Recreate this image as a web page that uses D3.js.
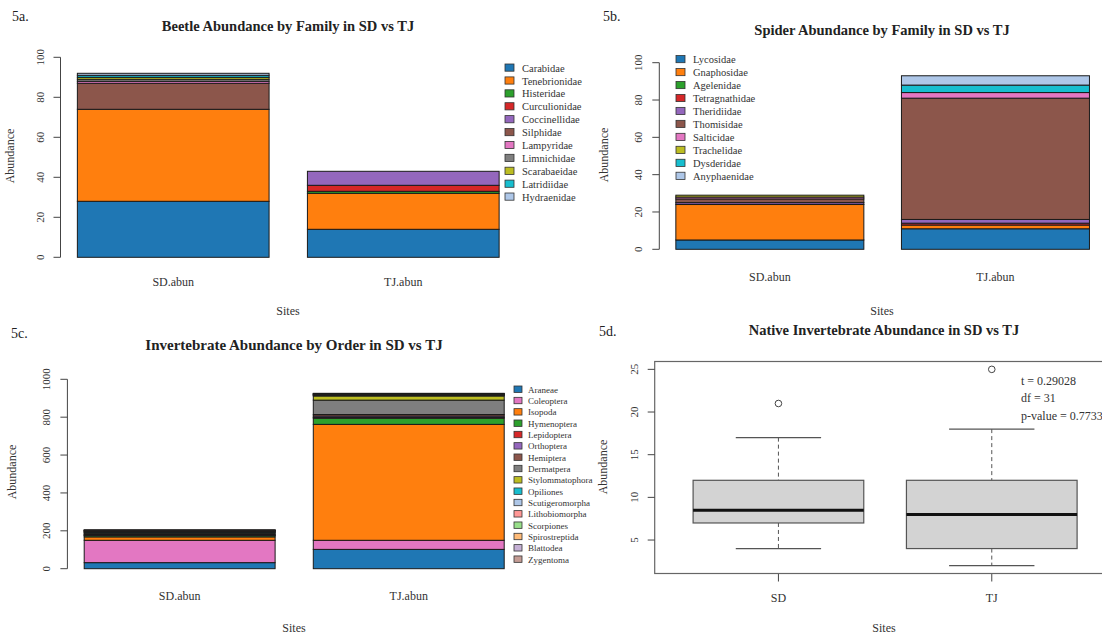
<!DOCTYPE html>
<html>
<head>
<meta charset="utf-8">
<script src="https://cdn.jsdelivr.net/npm/d3@7"></script>
<style>
  body { margin: 0; background: #fff; }
  svg text { font-family: "Liberation Serif", "DejaVu Serif", serif; fill: #222; }
</style>
</head>
<body>
<svg id="fig" width="1102" height="636"></svg>
<script>
// ---- data ----
const sites = ["SD.abun", "TJ.abun"];

const beetleFamilies = ["Carabidae", "Tenebrionidae", "Histeridae", "Curculionidae", "Coccinellidae",
  "Silphidae", "Lampyridae", "Limnichidae", "Scarabaeidae", "Latridiidae", "Hydraenidae"];
const beetleSD = [28, 46, 0, 0, 0, 13, 1, 1, 1, 1, 1];
const beetleTJ = [14, 18, 1, 3, 7, 0, 0, 0, 0, 0, 0];
const beetleColors = ["#1f77b4", "#ff7f0e", "#2ca02c", "#d62728", "#9467bd", "#8c564b",
  "#e377c2", "#7f7f7f", "#bcbd22", "#17becf", "#aec7e8"];

const spiderFamilies = ["Lycosidae", "Gnaphosidae", "Agelenidae", "Tetragnathidae", "Theridiidae",
  "Thomisidae", "Salticidae", "Trachelidae", "Dysderidae", "Anyphaenidae"];
const spiderSD = [5, 19, 0, 0, 1, 2, 1, 1, 0, 0];
const spiderTJ = [11, 2, 0, 1, 2, 65, 3, 0, 4, 5];
const spiderColors = ["#1f77b4", "#ff7f0e", "#2ca02c", "#d62728", "#9467bd", "#8c564b",
  "#e377c2", "#bcbd22", "#17becf", "#aec7e8"];

const invertOrders = ["Araneae", "Coleoptera", "Isopoda", "Hymenoptera", "Lepidoptera", "Orthoptera",
  "Hemiptera", "Dermatpera", "Stylommatophora", "Opiliones", "Scutigeromorpha", "Lithobiomorpha",
  "Scorpiones", "Spirostreptida", "Blattodea", "Zygentoma"];
const invertSD = [32, 118, 18, 7, 2, 3, 4, 6, 3, 2, 2, 3, 1, 2, 1, 1];
const invertTJ = [102, 48, 612, 33, 3, 8, 8, 76, 22, 3, 2, 3, 1, 2, 1, 2];
const invertColors = ["#1f77b4", "#e377c2", "#ff7f0e", "#2ca02c", "#d62728", "#9467bd",
  "#8c564b", "#7f7f7f", "#bcbd22", "#17becf", "#aec7e8", "#ff9896", "#98df8a", "#ffbb78",
  "#c5b0d5", "#c49c94"];

// native invertebrate abundance, boxplot summaries
const nativeSites = ["SD", "TJ"];
const nativeLow = [4, 2];
const nativeQ1 = [7, 4];
const nativeMedian = [8.5, 8];
const nativeQ3 = [12, 12];
const nativeHigh = [17, 18];
const nativeOutliers = [[21], [25]];
const nativeTicks = [5, 10, 15, 20, 25];
const tTestLines = ["t = 0.29028", "df = 31", "p-value = 0.7733"];

const svg = d3.select("#fig");

// rotated left axis in the style of base R graphics
function leftAxis(g, y, ticks, x0, drawLine, fontSize) {
  const ax = g.append("g").attr("transform", `translate(${x0},0)`);
  if (drawLine) {
    ax.append("line")
      .attr("x1", 0).attr("x2", 0)
      .attr("y1", y(ticks[0])).attr("y2", y(ticks[ticks.length - 1]))
      .attr("stroke", "#444").attr("stroke-width", 1);
  }
  ticks.forEach(t => {
    ax.append("line")
      .attr("x1", 0).attr("x2", -7)
      .attr("y1", y(t)).attr("y2", y(t))
      .attr("stroke", "#444").attr("stroke-width", 1);
    ax.append("text")
      .attr("transform", `translate(-17,${y(t)}) rotate(-90)`)
      .attr("text-anchor", "middle")
      .attr("font-size", fontSize)
      .style("fill", "#333")
      .text(t);
  });
}

function rotatedLabel(x, y, text, size) {
  svg.append("text")
    .attr("transform", `translate(${x},${y}) rotate(-90)`)
    .attr("text-anchor", "middle")
    .attr("font-size", size)
    .style("fill", "#333")
    .text(text);
}

function plainText(x, y, text, size, opts = {}) {
  svg.append("text")
    .attr("x", x).attr("y", y)
    .attr("text-anchor", opts.anchor || "middle")
    .attr("font-size", size)
    .attr("font-weight", opts.bold ? "bold" : "normal")
    .style("fill", opts.fill || "#222")
    .text(text);
}

function stackedPanel(cfg) {
  const g = svg.append("g");
  const x = d3.scaleBand()
    .domain(sites)
    .range([cfg.left, cfg.right])
    .paddingInner(0.2 / 1.2)
    .paddingOuter(0.088 / 1.2);
  const y = d3.scaleLinear().domain([0, cfg.yMax]).range([cfg.yBottom, cfg.yTop]);

  const rows = sites.map((s, i) => {
    const r = { site: s };
    cfg.categories.forEach((c, k) => { r[c] = (i === 0 ? cfg.sd : cfg.tj)[k]; });
    return r;
  });
  const series = d3.stack().keys(cfg.categories)(rows);
  const color = d3.scaleOrdinal().domain(cfg.categories).range(cfg.colors);

  series.forEach(s => {
    g.selectAll(null)
      .data(s.filter(d => d[1] - d[0] > 0))
      .join("rect")
      .attr("x", d => x(d.data.site))
      .attr("width", x.bandwidth())
      .attr("y", d => y(d[1]))
      .attr("height", d => y(d[0]) - y(d[1]))
      .attr("fill", color(s.key))
      .attr("stroke", "#1a1a1a")
      .attr("stroke-width", 1);
  });

  leftAxis(g, y, cfg.ticks, cfg.left, true, 11);

  sites.forEach(s => plainText(x(s) + x.bandwidth() / 2, cfg.catY, s, 12, { fill: "#333" }));

  // legend
  cfg.categories.forEach((c, k) => {
    const ly = cfg.legY0 + k * cfg.legStep;
    g.append("rect")
      .attr("x", cfg.legX).attr("y", ly - cfg.sw / 2)
      .attr("width", cfg.sw).attr("height", cfg.sw * 0.8)
      .attr("fill", color(c)).attr("stroke", "#333").attr("stroke-width", 0.8);
    g.append("text")
      .attr("x", cfg.legX + cfg.legTextDx).attr("y", ly + cfg.legFont * 0.3)
      .attr("font-size", cfg.legFont)
      .style("fill", "#333")
      .text(c);
  });
}

// ---- 5a: beetles ----
stackedPanel({
  categories: beetleFamilies, sd: beetleSD, tj: beetleTJ, colors: beetleColors,
  left: 60.5, right: 516, yTop: 57.3, yBottom: 257.3, yMax: 100,
  ticks: [0, 20, 40, 60, 80, 100], catY: 286,
  legX: 505, legTextDx: 17, legY0: 68.5, legStep: 12.9, legFont: 10.5, sw: 9
});
plainText(12, 21, "5a.", 14, { anchor: "start" });
plainText(288, 31, "Beetle Abundance by Family in SD vs TJ", 14.5, { bold: true });
rotatedLabel(14, 156, "Abundance", 12);
plainText(288, 315, "Sites", 12, { fill: "#333" });

// ---- 5b: spiders ----
stackedPanel({
  categories: spiderFamilies, sd: spiderSD, tj: spiderTJ, colors: spiderColors,
  left: 659.3, right: 1106, yTop: 62.7, yBottom: 249.3, yMax: 100,
  ticks: [0, 20, 40, 60, 80, 100], catY: 281,
  legX: 676, legTextDx: 17, legY0: 60, legStep: 12.97, legFont: 10.5, sw: 9
});
plainText(603, 21, "5b.", 14, { anchor: "start" });
plainText(882, 35, "Spider Abundance by Family in SD vs TJ", 14.5, { bold: true });
rotatedLabel(608, 155, "Abundance", 12);
plainText(882, 315, "Sites", 12, { fill: "#333" });

// ---- 5c: invertebrate orders ----
stackedPanel({
  categories: invertOrders, sd: invertSD, tj: invertTJ, colors: invertColors,
  left: 67.4, right: 521, yTop: 379.3, yBottom: 568.7, yMax: 1000,
  ticks: [0, 200, 400, 600, 800, 1000], catY: 600,
  legX: 514, legTextDx: 14, legY0: 390, legStep: 11.33, legFont: 9, sw: 8
});
plainText(11, 338, "5c.", 14, { anchor: "start" });
plainText(294, 350, "Invertebrate Abundance by Order in SD vs TJ", 15, { bold: true });
rotatedLabel(16, 472, "Abundance", 12);
plainText(294, 632, "Sites", 12, { fill: "#333" });

// ---- 5d: native invertebrate boxplot ----
(function () {
  const g = svg.append("g");
  const x = d3.scaleLinear().domain([0.42, 2.58]).range([654.7, 1115.5]);
  const y = d3.scaleLinear().domain([1.08, 25.92]).range([573.5, 361.5]);
  const half = 0.4, capHalf = 0.2;

  nativeSites.forEach((s, i) => {
    const cx = x(i + 1);
    // whiskers
    [[nativeHigh[i], nativeQ3[i]], [nativeQ1[i], nativeLow[i]]].forEach(([a, b]) => {
      g.append("line")
        .attr("x1", cx).attr("x2", cx).attr("y1", y(a)).attr("y2", y(b))
        .attr("stroke", "#555").attr("stroke-width", 1).attr("stroke-dasharray", "4,3");
    });
    [nativeHigh[i], nativeLow[i]].forEach(v => {
      g.append("line")
        .attr("x1", x(i + 1 - capHalf)).attr("x2", x(i + 1 + capHalf))
        .attr("y1", y(v)).attr("y2", y(v))
        .attr("stroke", "#555").attr("stroke-width", 1.2);
    });
    // box
    g.append("rect")
      .attr("x", x(i + 1 - half)).attr("width", x(i + 1 + half) - x(i + 1 - half))
      .attr("y", y(nativeQ3[i])).attr("height", y(nativeQ1[i]) - y(nativeQ3[i]))
      .attr("fill", "#d3d3d3").attr("stroke", "#555").attr("stroke-width", 1.2);
    // median
    g.append("line")
      .attr("x1", x(i + 1 - half)).attr("x2", x(i + 1 + half))
      .attr("y1", y(nativeMedian[i])).attr("y2", y(nativeMedian[i]))
      .attr("stroke", "#111").attr("stroke-width", 3);
    // outliers
    nativeOutliers[i].forEach(v => {
      g.append("circle")
        .attr("cx", cx).attr("cy", y(v)).attr("r", 3.3)
        .attr("fill", "none").attr("stroke", "#444").attr("stroke-width", 1);
    });
    // x tick and label
    g.append("line")
      .attr("x1", cx).attr("x2", cx).attr("y1", 574).attr("y2", 581.5)
      .attr("stroke", "#444");
    plainText(cx, 602, s, 12, { fill: "#333" });
  });

  // plot frame
  g.append("rect")
    .attr("x", 654.7).attr("y", 361.5)
    .attr("width", 1115.5 - 654.7).attr("height", 573.5 - 361.5)
    .attr("fill", "none").attr("stroke", "#666").attr("stroke-width", 1.2);

  leftAxis(g, y, nativeTicks, 654.7, false, 11);

  tTestLines.forEach((t, k) => {
    g.append("text")
      .attr("x", 1021).attr("y", 384.5 + k * 17.8)
      .attr("font-size", 12)
      .style("fill", "#333")
      .text(t);
  });
})();
plainText(599, 336, "5d.", 14, { anchor: "start" });
plainText(884, 335, "Native Invertebrate Abundance in SD vs TJ", 14.5, { bold: true });
rotatedLabel(607, 467, "Abundance", 12);
plainText(884, 632, "Sites", 12, { fill: "#333" });
</script>
</body>
</html>
